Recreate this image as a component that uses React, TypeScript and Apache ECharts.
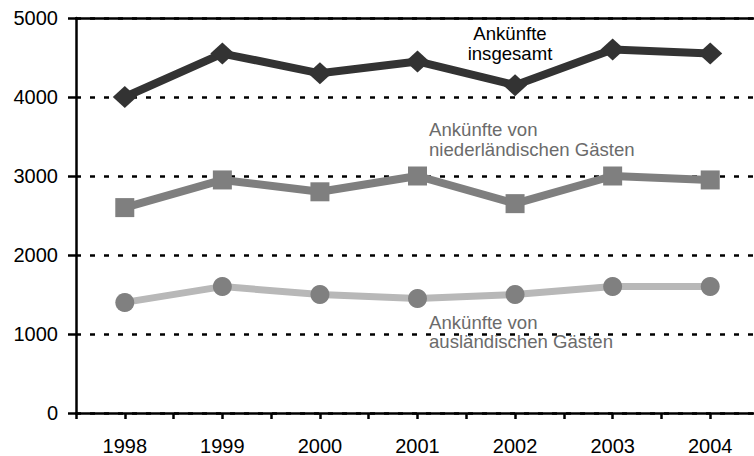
import React, { useEffect, useRef } from "react";
import * as echarts from "echarts";

const years = [1998, 1999, 2000, 2001, 2002, 2003, 2004];
const totalArrivals = [4000, 4550, 4300, 4450, 4150, 4600, 4550];
const dutchArrivals = [2600, 2950, 2800, 3000, 2650, 3000, 2950];
const foreignArrivals = [1400, 1600, 1500, 1450, 1500, 1600, 1600];
const yTicks = [0, 1000, 2000, 3000, 4000, 5000];

const labelTotal = "Ankünfte\ninsgesamt";
const labelDutch = "Ankünfte von\nniederländischen Gästen";
const labelForeign = "Ankünfte von\nausländischen Gästen";

const FONT = "'Liberation Sans', Arial, sans-serif";

export default function App() {
  const ref = useRef<HTMLDivElement>(null);
  useEffect(() => {
    if (!ref.current) return;
    const chart = echarts.init(ref.current, undefined, { renderer: "svg" });
    const pair = (vals: number[]) => years.map((y, i) => [y, vals[i]]);
    chart.setOption({
      animation: false,
      backgroundColor: "#ffffff",
      textStyle: { fontFamily: FONT },
      grid: { left: 76, right: 2, top: 18, bottom: 42.5, containLabel: false },
      xAxis: [
        {
          type: "value",
          min: years[0] - 0.5,
          max: years[years.length - 1] + 0.5,
          interval: 0.5,
          position: "bottom",
          axisLine: { show: true, onZero: false, lineStyle: { color: "#000", width: 2.5 } },
          axisTick: { show: true, inside: false, length: 6, lineStyle: { color: "#000", width: 2.5 } },
          axisLabel: {
            show: true,
            margin: 23,
            fontSize: 20,
            color: "#000",
            fontFamily: FONT,
            formatter: (v: number) => (Number.isInteger(v) ? String(v) : ""),
          },
          splitLine: { show: false },
        },
        {
          type: "value",
          min: years[0] - 0.5,
          max: years[years.length - 1] + 0.5,
          position: "top",
          axisLine: { show: true, onZero: false, lineStyle: { color: "#000", width: 2.5 } },
          axisTick: { show: false },
          axisLabel: { show: false },
          splitLine: { show: false },
        },
      ],
      yAxis: {
        type: "value",
        min: yTicks[0],
        max: yTicks[yTicks.length - 1],
        interval: 1000,
        axisLine: { show: true, lineStyle: { color: "#000", width: 2.5 } },
        axisTick: { show: true, inside: false, length: 8, lineStyle: { color: "#000", width: 2.5 } },
        axisLabel: {
          margin: 18,
          fontSize: 20,
          color: "#000",
          fontFamily: FONT,
          formatter: (v: number) => String(v),
        },
        splitLine: { show: true, lineStyle: { color: "#000", width: 2.5, type: [5, 9] } },
      },
      series: [
        {
          name: "ausländische",
          type: "line",
          data: pair(foreignArrivals),
          symbol: "circle",
          symbolSize: 19,
          itemStyle: { color: "#808080" },
          lineStyle: { color: "#b8b8b8", width: 7 },
          z: 3,
        },
        {
          name: "niederländische",
          type: "line",
          data: pair(dutchArrivals),
          symbol: "rect",
          symbolSize: 19,
          itemStyle: { color: "#7f7f7f" },
          lineStyle: { color: "#7f7f7f", width: 8 },
          z: 4,
        },
        {
          name: "insgesamt",
          type: "line",
          data: pair(totalArrivals),
          symbol: "diamond",
          symbolSize: [24, 22],
          itemStyle: { color: "#333333" },
          lineStyle: { color: "#333333", width: 8 },
          z: 5,
        },
      ],
      graphic: [
        {
          type: "text",
          x: 510,
          y: 23,
          style: {
            text: labelTotal,
            fontSize: 18.6,
            lineHeight: 20,
            fontFamily: FONT,
            fill: "#000",
            align: "center",
            verticalAlign: "top",
          },
          z: 10,
        },
        {
          type: "text",
          x: 429,
          y: 119,
          style: {
            text: labelDutch,
            fontSize: 18.6,
            lineHeight: 20,
            fontFamily: FONT,
            fill: "#6b6b6b",
            align: "left",
            verticalAlign: "top",
          },
          z: 10,
        },
        {
          type: "text",
          x: 429,
          y: 313,
          style: {
            text: labelForeign,
            fontSize: 18.6,
            lineHeight: 19,
            fontFamily: FONT,
            fill: "#6b6b6b",
            align: "left",
            verticalAlign: "top",
          },
          z: 10,
        },
      ],
    });
    return () => chart.dispose();
  }, []);
  return (
    <div style={{ position: "absolute", left: 0, top: 0, width: 754, height: 456, overflow: "hidden", background: "#fff" }}>
      <div ref={ref} style={{ width: 762, height: 456 }} />
    </div>
  );
}
